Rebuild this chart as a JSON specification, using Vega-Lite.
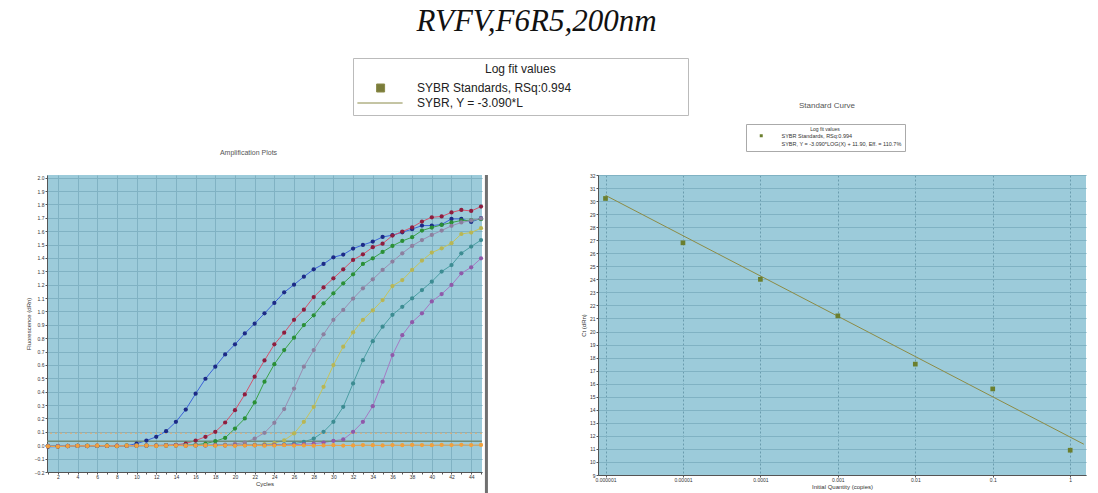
{
  "$schema": "https://vega.github.io/schema/vega-lite/v6.json",
  "background": "white",
  "padding": {"left": 25, "top": 5, "right": 5, "bottom": 2},
  "title": {"text": "RVFV,F6R5,200nm", "font": "Liberation Serif", "fontStyle": "italic", "fontWeight": "normal", "fontSize": 31, "color": "#111111", "anchor": "middle", "offset": 20, "dx": -19},
  "config": {
    "view": {"fill": "#9ccbda", "stroke": null},
    "font": "Liberation Sans",
    "axis": {"labelFontSize": 5, "labelColor": "#333333", "titleFontSize": 6, "titleFontWeight": "normal", "titleColor": "#333333", "domainColor": "#555555", "tickColor": "#555555", "tickSize": 2, "gridColor": "#80b2c3", "labelPadding": 1, "titlePadding": 3, "labelFont": "Liberation Sans", "titleFont": "Liberation Sans"},
    "axisX": {"labelPadding": 0, "titlePadding": 1}
  },
  "datasets": {
    "amp": [
      {"series":"1","cycle":1,"dRn":-0.012},{"series":"1","cycle":2,"dRn":-0.010},{"series":"1","cycle":3,"dRn":-0.006},{"series":"1","cycle":4,"dRn":-0.004},{"series":"1","cycle":5,"dRn":-0.006},{"series":"1","cycle":6,"dRn":-0.005},{"series":"1","cycle":7,"dRn":-0.004},{"series":"1","cycle":8,"dRn":-0.006},{"series":"1","cycle":9,"dRn":-0.004},{"series":"1","cycle":10,"dRn":0.012},{"series":"1","cycle":11,"dRn":0.035},{"series":"1","cycle":12,"dRn":0.063},{"series":"1","cycle":13,"dRn":0.105},{"series":"1","cycle":14,"dRn":0.175},{"series":"1","cycle":15,"dRn":0.267},{"series":"1","cycle":16,"dRn":0.385},{"series":"1","cycle":17,"dRn":0.497},{"series":"1","cycle":18,"dRn":0.587},{"series":"1","cycle":19,"dRn":0.679},{"series":"1","cycle":20,"dRn":0.754},{"series":"1","cycle":21,"dRn":0.836},{"series":"1","cycle":22,"dRn":0.909},{"series":"1","cycle":23,"dRn":0.986},{"series":"1","cycle":24,"dRn":1.064},{"series":"1","cycle":25,"dRn":1.143},{"series":"1","cycle":26,"dRn":1.200},{"series":"1","cycle":27,"dRn":1.260},{"series":"1","cycle":28,"dRn":1.315},{"series":"1","cycle":29,"dRn":1.355},{"series":"1","cycle":30,"dRn":1.405},{"series":"1","cycle":31,"dRn":1.425},{"series":"1","cycle":32,"dRn":1.470},{"series":"1","cycle":33,"dRn":1.497},{"series":"1","cycle":34,"dRn":1.522},{"series":"1","cycle":35,"dRn":1.557},{"series":"1","cycle":36,"dRn":1.570},{"series":"1","cycle":37,"dRn":1.592},{"series":"1","cycle":38,"dRn":1.615},{"series":"1","cycle":39,"dRn":1.642},{"series":"1","cycle":40,"dRn":1.642},{"series":"1","cycle":41,"dRn":1.650},{"series":"1","cycle":42,"dRn":1.692},{"series":"1","cycle":43,"dRn":1.692},{"series":"1","cycle":44,"dRn":1.669},{"series":"1","cycle":45,"dRn":1.697},
      {"series":"0.1","cycle":1,"dRn":-0.008},{"series":"0.1","cycle":2,"dRn":-0.010},{"series":"0.1","cycle":3,"dRn":-0.007},{"series":"0.1","cycle":4,"dRn":-0.005},{"series":"0.1","cycle":5,"dRn":-0.006},{"series":"0.1","cycle":6,"dRn":-0.004},{"series":"0.1","cycle":7,"dRn":-0.005},{"series":"0.1","cycle":8,"dRn":-0.004},{"series":"0.1","cycle":9,"dRn":-0.003},{"series":"0.1","cycle":10,"dRn":-0.004},{"series":"0.1","cycle":11,"dRn":-0.002},{"series":"0.1","cycle":12,"dRn":-0.002},{"series":"0.1","cycle":13,"dRn":0.000},{"series":"0.1","cycle":14,"dRn":0.003},{"series":"0.1","cycle":15,"dRn":0.013},{"series":"0.1","cycle":16,"dRn":0.035},{"series":"0.1","cycle":17,"dRn":0.063},{"series":"0.1","cycle":18,"dRn":0.100},{"series":"0.1","cycle":19,"dRn":0.170},{"series":"0.1","cycle":20,"dRn":0.262},{"series":"0.1","cycle":21,"dRn":0.380},{"series":"0.1","cycle":22,"dRn":0.512},{"series":"0.1","cycle":23,"dRn":0.634},{"series":"0.1","cycle":24,"dRn":0.754},{"series":"0.1","cycle":25,"dRn":0.841},{"series":"0.1","cycle":26,"dRn":0.938},{"series":"0.1","cycle":27,"dRn":1.013},{"series":"0.1","cycle":28,"dRn":1.108},{"series":"0.1","cycle":29,"dRn":1.180},{"series":"0.1","cycle":30,"dRn":1.248},{"series":"0.1","cycle":31,"dRn":1.315},{"series":"0.1","cycle":32,"dRn":1.385},{"series":"0.1","cycle":33,"dRn":1.427},{"series":"0.1","cycle":34,"dRn":1.480},{"series":"0.1","cycle":35,"dRn":1.507},{"series":"0.1","cycle":36,"dRn":1.567},{"series":"0.1","cycle":37,"dRn":1.597},{"series":"0.1","cycle":38,"dRn":1.629},{"series":"0.1","cycle":39,"dRn":1.672},{"series":"0.1","cycle":40,"dRn":1.704},{"series":"0.1","cycle":41,"dRn":1.710},{"series":"0.1","cycle":42,"dRn":1.740},{"series":"0.1","cycle":43,"dRn":1.759},{"series":"0.1","cycle":44,"dRn":1.751},{"series":"0.1","cycle":45,"dRn":1.784},
      {"series":"0.01","cycle":1,"dRn":-0.006},{"series":"0.01","cycle":2,"dRn":-0.008},{"series":"0.01","cycle":3,"dRn":-0.005},{"series":"0.01","cycle":4,"dRn":-0.004},{"series":"0.01","cycle":5,"dRn":-0.005},{"series":"0.01","cycle":6,"dRn":-0.004},{"series":"0.01","cycle":7,"dRn":-0.003},{"series":"0.01","cycle":8,"dRn":-0.004},{"series":"0.01","cycle":9,"dRn":-0.003},{"series":"0.01","cycle":10,"dRn":-0.002},{"series":"0.01","cycle":11,"dRn":-0.003},{"series":"0.01","cycle":12,"dRn":-0.002},{"series":"0.01","cycle":13,"dRn":-0.001},{"series":"0.01","cycle":14,"dRn":-0.002},{"series":"0.01","cycle":15,"dRn":0.000},{"series":"0.01","cycle":16,"dRn":0.004},{"series":"0.01","cycle":17,"dRn":0.012},{"series":"0.01","cycle":18,"dRn":0.030},{"series":"0.01","cycle":19,"dRn":0.055},{"series":"0.01","cycle":20,"dRn":0.125},{"series":"0.01","cycle":21,"dRn":0.200},{"series":"0.01","cycle":22,"dRn":0.320},{"series":"0.01","cycle":23,"dRn":0.475},{"series":"0.01","cycle":24,"dRn":0.606},{"series":"0.01","cycle":25,"dRn":0.711},{"series":"0.01","cycle":26,"dRn":0.804},{"series":"0.01","cycle":27,"dRn":0.898},{"series":"0.01","cycle":28,"dRn":0.971},{"series":"0.01","cycle":29,"dRn":1.061},{"series":"0.01","cycle":30,"dRn":1.136},{"series":"0.01","cycle":31,"dRn":1.210},{"series":"0.01","cycle":32,"dRn":1.278},{"series":"0.01","cycle":33,"dRn":1.355},{"series":"0.01","cycle":34,"dRn":1.397},{"series":"0.01","cycle":35,"dRn":1.445},{"series":"0.01","cycle":36,"dRn":1.490},{"series":"0.01","cycle":37,"dRn":1.527},{"series":"0.01","cycle":38,"dRn":1.555},{"series":"0.01","cycle":39,"dRn":1.605},{"series":"0.01","cycle":40,"dRn":1.627},{"series":"0.01","cycle":41,"dRn":1.647},{"series":"0.01","cycle":42,"dRn":1.665},{"series":"0.01","cycle":43,"dRn":1.680},{"series":"0.01","cycle":44,"dRn":1.682},{"series":"0.01","cycle":45,"dRn":1.690},
      {"series":"0.001","cycle":1,"dRn":-0.005},{"series":"0.001","cycle":2,"dRn":-0.007},{"series":"0.001","cycle":3,"dRn":-0.004},{"series":"0.001","cycle":4,"dRn":-0.005},{"series":"0.001","cycle":5,"dRn":-0.004},{"series":"0.001","cycle":6,"dRn":-0.003},{"series":"0.001","cycle":7,"dRn":-0.004},{"series":"0.001","cycle":8,"dRn":-0.003},{"series":"0.001","cycle":9,"dRn":-0.002},{"series":"0.001","cycle":10,"dRn":-0.003},{"series":"0.001","cycle":11,"dRn":-0.002},{"series":"0.001","cycle":12,"dRn":-0.002},{"series":"0.001","cycle":13,"dRn":-0.001},{"series":"0.001","cycle":14,"dRn":-0.002},{"series":"0.001","cycle":15,"dRn":-0.001},{"series":"0.001","cycle":16,"dRn":0.000},{"series":"0.001","cycle":17,"dRn":0.000},{"series":"0.001","cycle":18,"dRn":0.002},{"series":"0.001","cycle":19,"dRn":0.005},{"series":"0.001","cycle":20,"dRn":0.010},{"series":"0.001","cycle":21,"dRn":0.020},{"series":"0.001","cycle":22,"dRn":0.050},{"series":"0.001","cycle":23,"dRn":0.093},{"series":"0.001","cycle":24,"dRn":0.168},{"series":"0.001","cycle":25,"dRn":0.270},{"series":"0.001","cycle":26,"dRn":0.424},{"series":"0.001","cycle":27,"dRn":0.587},{"series":"0.001","cycle":28,"dRn":0.711},{"series":"0.001","cycle":29,"dRn":0.829},{"series":"0.001","cycle":30,"dRn":0.938},{"series":"0.001","cycle":31,"dRn":1.011},{"series":"0.001","cycle":32,"dRn":1.096},{"series":"0.001","cycle":33,"dRn":1.173},{"series":"0.001","cycle":34,"dRn":1.240},{"series":"0.001","cycle":35,"dRn":1.310},{"series":"0.001","cycle":36,"dRn":1.373},{"series":"0.001","cycle":37,"dRn":1.435},{"series":"0.001","cycle":38,"dRn":1.490},{"series":"0.001","cycle":39,"dRn":1.534},{"series":"0.001","cycle":40,"dRn":1.572},{"series":"0.001","cycle":41,"dRn":1.605},{"series":"0.001","cycle":42,"dRn":1.640},{"series":"0.001","cycle":43,"dRn":1.665},{"series":"0.001","cycle":44,"dRn":1.680},{"series":"0.001","cycle":45,"dRn":1.695},
      {"series":"0.0001","cycle":1,"dRn":-0.004},{"series":"0.0001","cycle":2,"dRn":-0.006},{"series":"0.0001","cycle":3,"dRn":-0.005},{"series":"0.0001","cycle":4,"dRn":-0.004},{"series":"0.0001","cycle":5,"dRn":-0.004},{"series":"0.0001","cycle":6,"dRn":-0.003},{"series":"0.0001","cycle":7,"dRn":-0.004},{"series":"0.0001","cycle":8,"dRn":-0.003},{"series":"0.0001","cycle":9,"dRn":-0.003},{"series":"0.0001","cycle":10,"dRn":-0.002},{"series":"0.0001","cycle":11,"dRn":-0.002},{"series":"0.0001","cycle":12,"dRn":-0.003},{"series":"0.0001","cycle":13,"dRn":-0.002},{"series":"0.0001","cycle":14,"dRn":-0.001},{"series":"0.0001","cycle":15,"dRn":-0.002},{"series":"0.0001","cycle":16,"dRn":-0.001},{"series":"0.0001","cycle":17,"dRn":0.000},{"series":"0.0001","cycle":18,"dRn":-0.001},{"series":"0.0001","cycle":19,"dRn":0.000},{"series":"0.0001","cycle":20,"dRn":0.001},{"series":"0.0001","cycle":21,"dRn":0.002},{"series":"0.0001","cycle":22,"dRn":0.004},{"series":"0.0001","cycle":23,"dRn":0.008},{"series":"0.0001","cycle":24,"dRn":0.015},{"series":"0.0001","cycle":25,"dRn":0.037},{"series":"0.0001","cycle":26,"dRn":0.088},{"series":"0.0001","cycle":27,"dRn":0.175},{"series":"0.0001","cycle":28,"dRn":0.287},{"series":"0.0001","cycle":29,"dRn":0.437},{"series":"0.0001","cycle":30,"dRn":0.599},{"series":"0.0001","cycle":31,"dRn":0.737},{"series":"0.0001","cycle":32,"dRn":0.844},{"series":"0.0001","cycle":33,"dRn":0.938},{"series":"0.0001","cycle":34,"dRn":1.008},{"series":"0.0001","cycle":35,"dRn":1.085},{"series":"0.0001","cycle":36,"dRn":1.190},{"series":"0.0001","cycle":37,"dRn":1.235},{"series":"0.0001","cycle":38,"dRn":1.310},{"series":"0.0001","cycle":39,"dRn":1.380},{"series":"0.0001","cycle":40,"dRn":1.440},{"series":"0.0001","cycle":41,"dRn":1.472},{"series":"0.0001","cycle":42,"dRn":1.510},{"series":"0.0001","cycle":43,"dRn":1.579},{"series":"0.0001","cycle":44,"dRn":1.590},{"series":"0.0001","cycle":45,"dRn":1.622},
      {"series":"0.00001","cycle":1,"dRn":-0.005},{"series":"0.00001","cycle":2,"dRn":-0.006},{"series":"0.00001","cycle":3,"dRn":-0.004},{"series":"0.00001","cycle":4,"dRn":-0.005},{"series":"0.00001","cycle":5,"dRn":-0.003},{"series":"0.00001","cycle":6,"dRn":-0.004},{"series":"0.00001","cycle":7,"dRn":-0.003},{"series":"0.00001","cycle":8,"dRn":-0.004},{"series":"0.00001","cycle":9,"dRn":-0.002},{"series":"0.00001","cycle":10,"dRn":-0.003},{"series":"0.00001","cycle":11,"dRn":-0.002},{"series":"0.00001","cycle":12,"dRn":-0.002},{"series":"0.00001","cycle":13,"dRn":-0.003},{"series":"0.00001","cycle":14,"dRn":-0.001},{"series":"0.00001","cycle":15,"dRn":-0.002},{"series":"0.00001","cycle":16,"dRn":-0.001},{"series":"0.00001","cycle":17,"dRn":-0.001},{"series":"0.00001","cycle":18,"dRn":0.000},{"series":"0.00001","cycle":19,"dRn":-0.001},{"series":"0.00001","cycle":20,"dRn":0.000},{"series":"0.00001","cycle":21,"dRn":0.001},{"series":"0.00001","cycle":22,"dRn":0.000},{"series":"0.00001","cycle":23,"dRn":0.002},{"series":"0.00001","cycle":24,"dRn":0.003},{"series":"0.00001","cycle":25,"dRn":0.006},{"series":"0.00001","cycle":26,"dRn":0.012},{"series":"0.00001","cycle":27,"dRn":0.025},{"series":"0.00001","cycle":28,"dRn":0.050},{"series":"0.00001","cycle":29,"dRn":0.100},{"series":"0.00001","cycle":30,"dRn":0.175},{"series":"0.00001","cycle":31,"dRn":0.287},{"series":"0.00001","cycle":32,"dRn":0.462},{"series":"0.00001","cycle":33,"dRn":0.636},{"series":"0.00001","cycle":34,"dRn":0.778},{"series":"0.00001","cycle":35,"dRn":0.886},{"series":"0.00001","cycle":36,"dRn":0.975},{"series":"0.00001","cycle":37,"dRn":1.035},{"series":"0.00001","cycle":38,"dRn":1.098},{"series":"0.00001","cycle":39,"dRn":1.160},{"series":"0.00001","cycle":40,"dRn":1.223},{"series":"0.00001","cycle":41,"dRn":1.298},{"series":"0.00001","cycle":42,"dRn":1.347},{"series":"0.00001","cycle":43,"dRn":1.435},{"series":"0.00001","cycle":44,"dRn":1.485},{"series":"0.00001","cycle":45,"dRn":1.534},
      {"series":"0.000001","cycle":1,"dRn":-0.006},{"series":"0.000001","cycle":2,"dRn":-0.007},{"series":"0.000001","cycle":3,"dRn":-0.005},{"series":"0.000001","cycle":4,"dRn":-0.004},{"series":"0.000001","cycle":5,"dRn":-0.005},{"series":"0.000001","cycle":6,"dRn":-0.003},{"series":"0.000001","cycle":7,"dRn":-0.004},{"series":"0.000001","cycle":8,"dRn":-0.003},{"series":"0.000001","cycle":9,"dRn":-0.004},{"series":"0.000001","cycle":10,"dRn":-0.002},{"series":"0.000001","cycle":11,"dRn":-0.003},{"series":"0.000001","cycle":12,"dRn":-0.002},{"series":"0.000001","cycle":13,"dRn":-0.002},{"series":"0.000001","cycle":14,"dRn":-0.001},{"series":"0.000001","cycle":15,"dRn":-0.002},{"series":"0.000001","cycle":16,"dRn":-0.001},{"series":"0.000001","cycle":17,"dRn":-0.002},{"series":"0.000001","cycle":18,"dRn":0.000},{"series":"0.000001","cycle":19,"dRn":-0.001},{"series":"0.000001","cycle":20,"dRn":0.000},{"series":"0.000001","cycle":21,"dRn":0.001},{"series":"0.000001","cycle":22,"dRn":0.000},{"series":"0.000001","cycle":23,"dRn":0.001},{"series":"0.000001","cycle":24,"dRn":0.002},{"series":"0.000001","cycle":25,"dRn":0.003},{"series":"0.000001","cycle":26,"dRn":0.004},{"series":"0.000001","cycle":27,"dRn":0.008},{"series":"0.000001","cycle":28,"dRn":0.012},{"series":"0.000001","cycle":29,"dRn":0.020},{"series":"0.000001","cycle":30,"dRn":0.033},{"series":"0.000001","cycle":31,"dRn":0.043},{"series":"0.000001","cycle":32,"dRn":0.100},{"series":"0.000001","cycle":33,"dRn":0.175},{"series":"0.000001","cycle":34,"dRn":0.292},{"series":"0.000001","cycle":35,"dRn":0.475},{"series":"0.000001","cycle":36,"dRn":0.674},{"series":"0.000001","cycle":37,"dRn":0.823},{"series":"0.000001","cycle":38,"dRn":0.920},{"series":"0.000001","cycle":39,"dRn":0.986},{"series":"0.000001","cycle":40,"dRn":1.075},{"series":"0.000001","cycle":41,"dRn":1.130},{"series":"0.000001","cycle":42,"dRn":1.198},{"series":"0.000001","cycle":43,"dRn":1.285},{"series":"0.000001","cycle":44,"dRn":1.330},{"series":"0.000001","cycle":45,"dRn":1.397},
      {"series":"NTC","cycle":1,"dRn":-0.008},{"series":"NTC","cycle":2,"dRn":-0.010},{"series":"NTC","cycle":3,"dRn":-0.006},{"series":"NTC","cycle":4,"dRn":-0.004},{"series":"NTC","cycle":5,"dRn":-0.005},{"series":"NTC","cycle":6,"dRn":-0.003},{"series":"NTC","cycle":7,"dRn":-0.004},{"series":"NTC","cycle":8,"dRn":-0.006},{"series":"NTC","cycle":9,"dRn":-0.003},{"series":"NTC","cycle":10,"dRn":-0.004},{"series":"NTC","cycle":11,"dRn":-0.002},{"series":"NTC","cycle":12,"dRn":-0.005},{"series":"NTC","cycle":13,"dRn":-0.003},{"series":"NTC","cycle":14,"dRn":-0.002},{"series":"NTC","cycle":15,"dRn":-0.004},{"series":"NTC","cycle":16,"dRn":-0.002},{"series":"NTC","cycle":17,"dRn":-0.001},{"series":"NTC","cycle":18,"dRn":-0.003},{"series":"NTC","cycle":19,"dRn":-0.002},{"series":"NTC","cycle":20,"dRn":-0.004},{"series":"NTC","cycle":21,"dRn":-0.002},{"series":"NTC","cycle":22,"dRn":-0.001},{"series":"NTC","cycle":23,"dRn":-0.003},{"series":"NTC","cycle":24,"dRn":-0.002},{"series":"NTC","cycle":25,"dRn":0.000},{"series":"NTC","cycle":26,"dRn":-0.002},{"series":"NTC","cycle":27,"dRn":-0.001},{"series":"NTC","cycle":28,"dRn":-0.003},{"series":"NTC","cycle":29,"dRn":-0.001},{"series":"NTC","cycle":30,"dRn":0.000},{"series":"NTC","cycle":31,"dRn":-0.002},{"series":"NTC","cycle":32,"dRn":-0.001},{"series":"NTC","cycle":33,"dRn":0.001},{"series":"NTC","cycle":34,"dRn":0.000},{"series":"NTC","cycle":35,"dRn":-0.001},{"series":"NTC","cycle":36,"dRn":0.001},{"series":"NTC","cycle":37,"dRn":0.000},{"series":"NTC","cycle":38,"dRn":0.002},{"series":"NTC","cycle":39,"dRn":0.001},{"series":"NTC","cycle":40,"dRn":0.000},{"series":"NTC","cycle":41,"dRn":0.002},{"series":"NTC","cycle":42,"dRn":0.001},{"series":"NTC","cycle":43,"dRn":0.003},{"series":"NTC","cycle":44,"dRn":0.001},{"series":"NTC","cycle":45,"dRn":0.002}
    ],
    "standards": [
      {"quantity": 0.000001, "ct": 30.2},
      {"quantity": 0.00001, "ct": 26.8},
      {"quantity": 0.0001, "ct": 24.0},
      {"quantity": 0.001, "ct": 21.2},
      {"quantity": 0.01, "ct": 17.5},
      {"quantity": 0.1, "ct": 15.6},
      {"quantity": 1, "ct": 10.9}
    ],
    "fit": [
      {"quantity": 0.000001, "ct": 30.44},
      {"quantity": 1.5, "ct": 11.36}
    ],
    "legendTop": [
      {"entry": "SYBR Standards, RSq:0.994"},
      {"entry": "SYBR, Y = -3.090*L"}
    ],
    "legendSmall": [
      {"entry": "SYBR Standards, RSq:0.994"},
      {"entry": "SYBR, Y = -3.090*LOG(X) + 11.90, Eff. = 110.7%"}
    ]
  },
  "bounds": "flush",
  "spacing": 116,
  "resolve": {"scale": {"color": "independent", "stroke": "independent"}},
  "hconcat": [
    {
      "width": 435,
      "height": 297,
      "view": {"fill": "#9ccbda", "stroke": null},
      "title": {"text": "Amplification Plots", "fontSize": 7, "fontWeight": "normal", "color": "#555555", "font": "Liberation Sans", "dx": -16, "offset": 18},
      "layer": [
        {
          "data": {"name": "amp"},
          "mark": {"type": "line", "strokeWidth": 1},
          "encoding": {
            "x": {"field": "cycle", "type": "quantitative", "scale": {"domain": [0.9, 45.1], "nice": false, "zero": false},
              "axis": {"title": "Cycles", "tickCount": 100, "format": "d", "values": [1,2,3,4,5,6,7,8,9,10,11,12,13,14,15,16,17,18,19,20,21,22,23,24,25,26,27,28,29,30,31,32,33,34,35,36,37,38,39,40,41,42,43,44,45],
                "labelExpr": "datum.value % 2 === 0 ? datum.label : ''",
                "gridOpacity": {"condition": {"test": "datum.value % 2 === 0", "value": 1}, "value": 0},
                "labelFlush": false, "labelOverlap": false}},
            "y": {"field": "dRn", "type": "quantitative", "scale": {"domain": [-0.2, 2.02], "nice": false, "zero": false},
              "axis": {"title": "Fluorescence (dRn)", "tickCount": 100, "values": [-0.2,-0.1,0,0.1,0.2,0.3,0.4,0.5,0.6,0.7,0.8,0.9,1,1.1,1.2,1.3,1.4,1.5,1.6,1.7,1.8,1.9,2.0], "format": ".1f", "labelOverlap": false, "labelFlush": false}},
            "stroke": {"field": "series", "type": "nominal", "legend": null,
              "scale": {"domain": ["1","0.1","0.01","0.001","0.0001","0.00001","0.000001","NTC"],
                "range": ["#3c63d8","#d2546e","#3aa24a","#9a8db2","#c5c45c","#4b9ea3","#a57ac4","#f2a446"]}}
          }
        },
        {
          "data": {"values": [{"level": 0.09}]},
          "mark": {"type": "rule", "color": "#eea862", "strokeDash": [2, 3], "strokeWidth": 1},
          "encoding": {"y": {"field": "level", "type": "quantitative"}}
        },
        {
          "data": {"values": [{"level": 0.03}]},
          "mark": {"type": "rule", "color": "#6f8c78", "strokeWidth": 1.5},
          "encoding": {"y": {"field": "level", "type": "quantitative"}}
        },
        {
          "data": {"name": "amp"},
          "mark": {"type": "circle", "size": 18, "opacity": 1},
          "encoding": {
            "x": {"field": "cycle", "type": "quantitative"},
            "y": {"field": "dRn", "type": "quantitative"},
            "color": {"field": "series", "type": "nominal", "legend": null,
              "scale": {"domain": ["1","0.1","0.01","0.001","0.0001","0.00001","0.000001","NTC"],
                "range": ["#1c2a86","#8e1d3e","#2a8f36","#8c7f9f","#b8b654","#3c8c92","#8f59aa","#f0a03c"]}}
          }
        },
        {
          "data": {"name": "legendTop"},
          "mark": {"type": "point", "filled": true, "opacity": 0, "color": "#7a7c3a"},
          "encoding": {
            "fill": {"field": "entry", "type": "nominal",
              "scale": {"domain": ["SYBR Standards, RSq:0.994", "SYBR, Y = -3.090*L"], "range": ["#7a7c3a", "#7a7c3a"]},
              "legend": {
                "orient": "none", "legendX": 306, "legendY": -117,
                "title": "\u2800\u2800\u2800\u2800\u2800\u2800\u2800\u2800\u2800\u2800\u2800\u2800\u2800\u2800Log fit values\u2800\u2800\u2800\u2800\u2800\u2800\u2800\u2800\u2800\u2800\u2800\u2800\u2800\u2800",
                "titleFontSize": 12, "titleFontWeight": "normal", "titleColor": "#222222", "titleFont": "Liberation Sans", "titleAnchor": "start", "titlePadding": 6, "titleLimit": 1000,
                "labelFontSize": 12, "labelColor": "#222222", "labelFont": "Liberation Sans", "labelLimit": 600, "labelOffset": 46,
                "symbolSize": 64, "symbolOpacity": 1, "symbolStrokeColor": "#8a8a48", "symbolStrokeWidth": 1,
                "padding": 6, "rowPadding": 3, "strokeColor": "#bbbbbb", "fillColor": "#ffffff",
                "encode": {"symbols": {"update": {
                  "shape": {"signal": "datum.value === 'SYBR Standards, RSq:0.994' ? 'M2.9,-1H4.9V1H2.9Z' : 'M-1.9,0H9.4'"},
                  "stroke": {"value": "#8a8a48"},
                  "strokeWidth": {"value": 1}
                }}}
              }
            }
          }
        },
        {
          "data": {"values": [{"frameX": 45.55, "top": 2.02, "bottom": -0.37}]},
          "mark": {"type": "rule", "color": "#707070", "strokeWidth": 3, "clip": false},
          "encoding": {
            "x": {"field": "frameX", "type": "quantitative"},
            "y": {"field": "top", "type": "quantitative"},
            "y2": {"field": "bottom"}
          }
        }
      ]
    },
    {
      "width": 488,
      "height": 300,
      "view": {"fill": "#9ccbda", "stroke": null},
      "title": {"text": "Standard Curve", "fontSize": 8, "fontWeight": "normal", "color": "#555555", "font": "Liberation Sans", "dx": -15, "offset": 63},
      "layer": [
        {
          "data": {"name": "fit"},
          "mark": {"type": "line", "color": "#8c8b45", "strokeWidth": 1},
          "encoding": {
            "x": {"field": "quantity", "type": "quantitative", "scale": {"type": "log", "domain": [0.0000008, 1.6], "nice": false},
              "axis": {"title": "Initial Quantity (copies)", "tickCount": 100, "values": [0.000001, 0.00001, 0.0001, 0.001, 0.01, 0.1, 1], "format": "~g", "gridDash": [2, 2], "gridColor": "#6a9cae", "labelOverlap": false, "labelFlush": false}},
            "y": {"field": "ct", "type": "quantitative", "scale": {"domain": [9, 32], "nice": false, "zero": false},
              "axis": {"title": "Ct (dRn)", "tickCount": 100, "format": "d", "values": [9,10,11,12,13,14,15,16,17,18,19,20,21,22,23,24,25,26,27,28,29,30,31,32], "labelOverlap": false, "labelFlush": false}}
          }
        },
        {
          "data": {"name": "standards"},
          "mark": {"type": "square", "size": 22, "color": "#6b7f2e", "opacity": 1},
          "encoding": {
            "x": {"field": "quantity", "type": "quantitative"},
            "y": {"field": "ct", "type": "quantitative"}
          }
        },
        {
          "data": {"name": "legendSmall"},
          "mark": {"type": "point", "filled": true, "opacity": 0, "color": "#6b7f2e"},
          "encoding": {
            "shape": {"field": "entry", "type": "nominal",
              "scale": {"domain": ["SYBR Standards, RSq:0.994", "SYBR, Y = -3.090*LOG(X) + 11.90, Eff. = 110.7%"], "range": ["M5.33,-1H7.33V1H5.33Z", "M1,0H12.33"]},
              "legend": {
                "orient": "none", "legendX": 699, "legendY": -51,
                "title": "Log fit values", "titleFontSize": 5, "titleFontWeight": "normal", "titleColor": "#333333", "titleFont": "Liberation Sans", "titleAnchor": "middle", "titlePadding": 1,
                "labelFontSize": 5.5, "labelColor": "#333333", "labelFont": "Liberation Sans", "labelLimit": 400, "labelOffset": 27,
                "symbolSize": 9, "symbolOpacity": 1, "symbolFillColor": "#6b7f2e", "symbolStrokeColor": "#8c8b45", "symbolStrokeWidth": 0.8,
                "padding": 3, "rowPadding": 1, "strokeColor": "#aaaaaa", "fillColor": "#ffffff",
                "encode": {"symbols": {"update": {
                  "stroke": {"value": "#8c8b45"},
                  "strokeWidth": {"value": 0.8},
                  "fill": {"value": "#6b7f2e"}
                }}}
              }
            }
          }
        }
      ]
    }
  ]
}
